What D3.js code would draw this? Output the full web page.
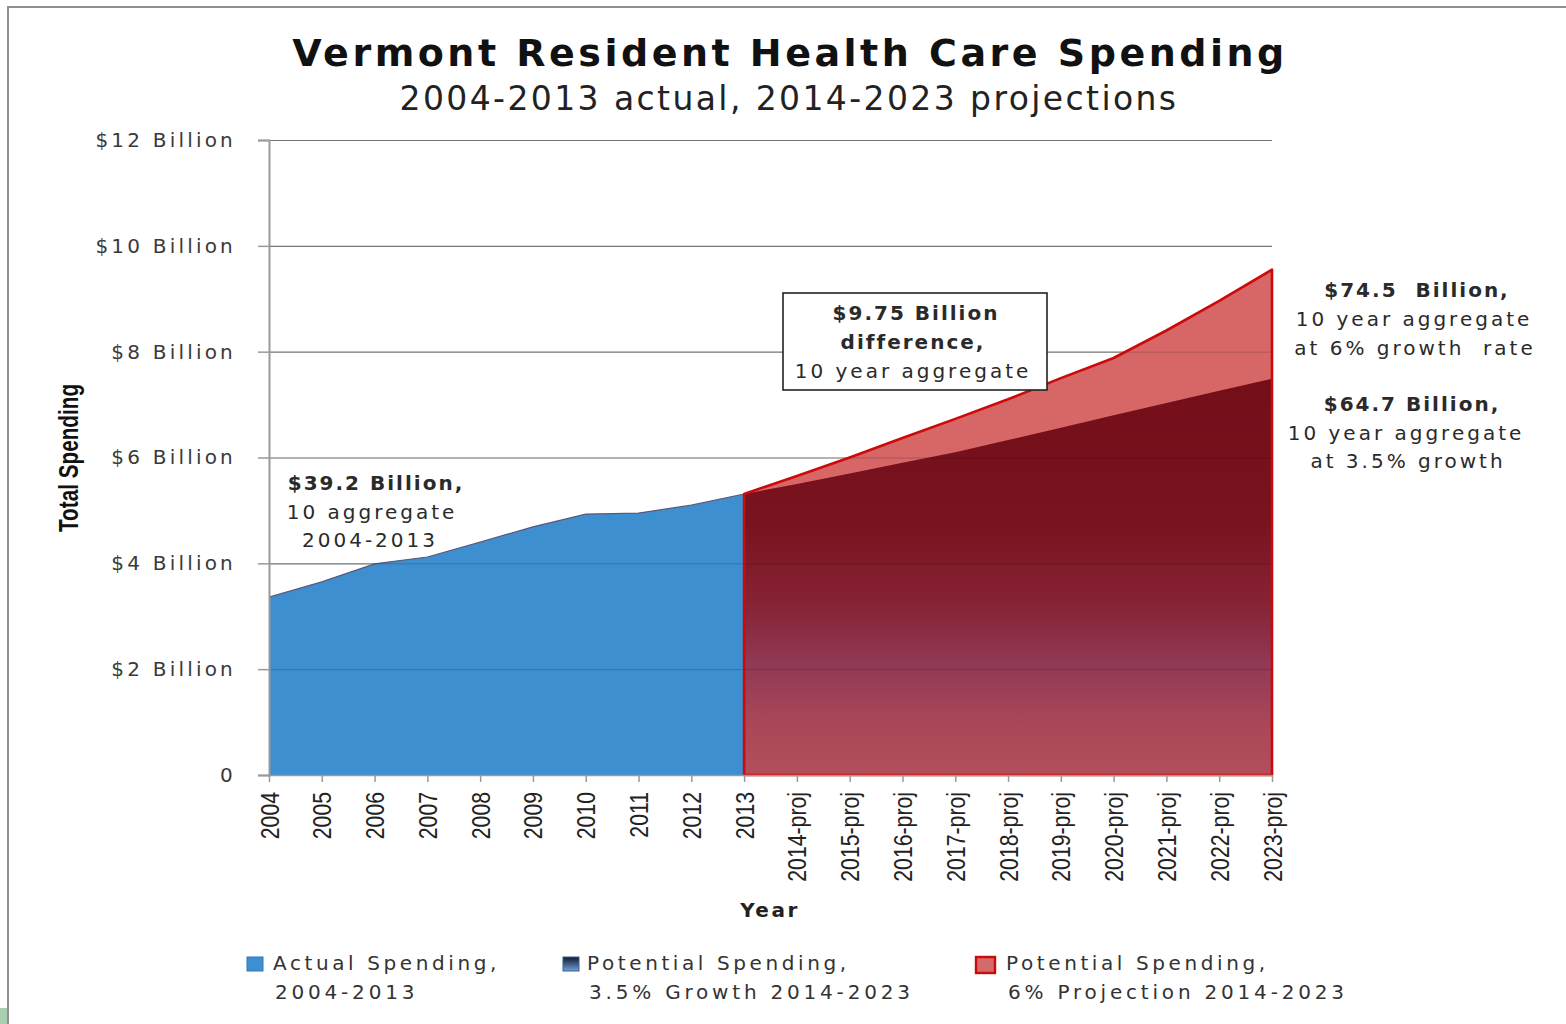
<!DOCTYPE html>
<html>
<head>
<meta charset="utf-8">
<script src="https://cdn.jsdelivr.net/npm/d3@7"></script>
<style>
	body { margin: 0; background: #fff; }
	svg text { font-family: "DejaVu Sans", Verdana, sans-serif; }
</style>
</head>
<body>
<svg width="1566" height="1024"></svg>
<script>
// categories along the bottom
const years = ["2004", "2005", "2006", "2007", "2008", "2009", "2010", "2011", "2012", "2013",
	"2014-proj", "2015-proj", "2016-proj", "2017-proj", "2018-proj", "2019-proj",
	"2020-proj", "2021-proj", "2022-proj", "2023-proj"];

// $ billions
const actualYears = years.slice(0, 10);
const actualSpending = [3.36, 3.65, 3.99, 4.12, 4.40, 4.69, 4.93, 4.95, 5.10, 5.31];

const projYears = years.slice(9); // 2013 .. 2023-proj
const growth35 = [5.31, 5.50, 5.70, 5.90, 6.10, 6.33, 6.56, 6.80, 7.03, 7.26, 7.49];
const growth6 = [5.31, 5.65, 6.00, 6.37, 6.73, 7.10, 7.50, 7.88, 8.40, 8.96, 9.55];

const yTicks = [0, 2, 4, 6, 8, 10, 12];
const yTickLabels = ["0", "$2 Billion", "$4 Billion", "$6 Billion", "$8 Billion", "$10 Billion", "$12 Billion"];

const legendItems = [
	["Actual Spending,", "2004-2013"],
	["Potential Spending,", "3.5% Growth 2014-2023"],
	["Potential Spending,", "6% Projection 2014-2023"]
];

const svg = d3.select("svg");
const defs = svg.append("defs");

const plot = {left: 269, right: 1272, top: 140, bottom: 775};

const x = d3.scalePoint().domain(years).range([plot.left, plot.right]);
const y = d3.scaleLinear().domain([0, 12]).range([plot.bottom, plot.top]);

// frame of the slide
svg.append("rect").attr("x", 0).attr("y", 1008).attr("width", 8).attr("height", 16).attr("fill", "#a9cfb1");
svg.append("path")
	.attr("d", "M8,1024 V7 H1566")
	.attr("fill", "none")
	.attr("stroke", "#8f8f8f")
	.attr("stroke-width", 2);

// gradient for the 3.5% area
const darkGrad = defs.append("linearGradient")
	.attr("id", "darkGrad")
	.attr("gradientUnits", "userSpaceOnUse")
	.attr("x1", 0).attr("x2", 0)
	.attr("y1", 380).attr("y2", plot.bottom);
[[0, "#740e19"], [0.36, "#78131f"], [0.56, "#862234"], [0.72, "#913955"], [0.87, "#a94758"], [1, "#b34f5d"]]
	.forEach(s => darkGrad.append("stop").attr("offset", s[0]).attr("stop-color", s[1]));

const legendGrad = defs.append("linearGradient")
	.attr("id", "legendGrad")
	.attr("x1", 0).attr("x2", 0).attr("y1", 0).attr("y2", 1);
legendGrad.append("stop").attr("offset", 0).attr("stop-color", "#0e1a30");
legendGrad.append("stop").attr("offset", 1).attr("stop-color", "#6f9fd8");

// light gridlines under the areas
svg.append("g")
	.attr("transform", `translate(${plot.left},0)`)
	.call(d3.axisLeft(y).tickValues(yTicks).tickSize(-(plot.right - plot.left)).tickFormat(""))
	.call(g => g.select(".domain").remove())
	.call(g => g.selectAll("line").attr("stroke", "#8c8c8c").attr("stroke-width", 1.2));

// areas
const area = d3.area()
	.x(d => x(d.year))
	.y0(y(0))
	.y1(d => y(d.value));

const actualData = actualYears.map((yr, i) => ({year: yr, value: actualSpending[i]}));
const data6 = projYears.map((yr, i) => ({year: yr, value: growth6[i]}));
const data35 = projYears.map((yr, i) => ({year: yr, value: growth35[i]}));

svg.append("path")
	.datum(actualData)
	.attr("d", area)
	.attr("fill", "#3d8fcf");

svg.append("path")
	.datum(actualData)
	.attr("d", d3.line().x(d => x(d.year)).y(d => y(d.value)))
	.attr("fill", "none")
	.attr("stroke", "#5d587e")
	.attr("stroke-width", 1.2);

svg.append("path")
	.datum(data6)
	.attr("d", area)
	.attr("fill", "#d76666");

svg.append("path")
	.datum(data35)
	.attr("d", area)
	.attr("fill", "url(#darkGrad)");

// gridlines seen through the fills
svg.append("g")
	.attr("transform", `translate(${plot.left},0)`)
	.call(d3.axisLeft(y).tickValues(yTicks.slice(1)).tickSize(-(plot.right - plot.left)).tickFormat(""))
	.call(g => g.select(".domain").remove())
	.call(g => g.selectAll("line").attr("stroke", "#000").attr("stroke-opacity", 0.18));

// red outline of the 6% projection
svg.append("path")
	.datum(data6)
	.attr("d", area)
	.attr("fill", "none")
	.attr("stroke", "#cc0a0a")
	.attr("stroke-width", 2.6)
	.attr("stroke-linejoin", "round");

// y axis
const yAxis = svg.append("g")
	.attr("transform", `translate(${plot.left},0)`)
	.call(d3.axisLeft(y).tickValues(yTicks).tickSize(11).tickPadding(22)
		.tickFormat((d, i) => yTickLabels[i]));
yAxis.select(".domain").attr("stroke", "#9a9a9a").attr("stroke-width", 2);
yAxis.selectAll("line").attr("stroke", "#9a9a9a").attr("stroke-width", 1.5);
yAxis.selectAll("text")
	.attr("fill", "#3a3a3a")
	.style("font-size", "20px")
	.style("letter-spacing", "3.2px");

// x axis, narrow rotated labels
const narrow = 0.85;
const xAxis = svg.append("g")
	.attr("transform", `translate(0,${plot.bottom})`)
	.call(d3.axisBottom(x).tickSize(7).tickSizeOuter(0));
xAxis.select(".domain").attr("stroke", "#9a9a9a").attr("stroke-width", 1.5);
xAxis.selectAll("line").attr("stroke", "#9a9a9a").attr("stroke-width", 1.5);
xAxis.selectAll("text")
	.attr("transform", `rotate(-90) scale(${narrow},1)`)
	.attr("text-anchor", "end")
	.attr("x", -17 / narrow)
	.attr("y", 0)
	.attr("dy", "0.36em")
	.attr("fill", "#222")
	.style("font-family", "'Liberation Sans', Arial, sans-serif")
	.style("font-size", "25px");

// titles
svg.append("text")
	.attr("x", 790).attr("y", 66)
	.attr("text-anchor", "middle")
	.attr("fill", "#111")
	.style("font-size", "38px")
	.style("font-weight", "bold")
	.style("letter-spacing", "3.5px")
	.text("Vermont Resident Health Care Spending");

svg.append("text")
	.attr("x", 789).attr("y", 110)
	.attr("text-anchor", "middle")
	.attr("fill", "#222")
	.style("font-size", "33px")
	.style("letter-spacing", "2.4px")
	.text("2004-2013 actual, 2014-2023 projections");

svg.append("text")
	.attr("transform", "translate(78,458) rotate(-90) scale(0.74,1)")
	.attr("text-anchor", "middle")
	.attr("fill", "#111")
	.style("font-family", "'Liberation Sans', Arial, sans-serif")
	.style("font-size", "28px")
	.style("font-weight", "bold")
	.text("Total Spending");

svg.append("text")
	.attr("x", 770).attr("y", 917)
	.attr("text-anchor", "middle")
	.attr("fill", "#222")
	.style("font-size", "20px")
	.style("font-weight", "bold")
	.style("letter-spacing", "2.5px")
	.text("Year");

// annotations: [text, cx, baseline, bold]
function note(lines) {
	lines.forEach(l => {
		svg.append("text")
			.attr("x", l[1]).attr("y", l[2])
			.attr("text-anchor", "middle")
			.attr("fill", "#2a2a2a")
			.style("white-space", "pre")
			.style("font-size", "20px")
			.style("font-weight", l[3] ? "bold" : "normal")
			.style("letter-spacing", l[3] ? "2px" : "3px")
			.text(l[0]);
	});
}

note([
	["$39.2 Billion,", 376, 490, true],
	["10 aggregate", 372, 519, false],
	["2004-2013", 370, 547, false]
]);

svg.append("rect")
	.attr("x", 783).attr("y", 293)
	.attr("width", 264).attr("height", 97)
	.attr("fill", "#fff")
	.attr("stroke", "#222")
	.attr("stroke-width", 1.6);

note([
	["$9.75 Billion", 916, 320, true],
	["difference,", 913, 349, true],
	["10 year aggregate", 913, 378, false]
]);

note([
	["$74.5  Billion,", 1417, 297, true],
	["10 year aggregate", 1414, 326, false],
	["at 6% growth  rate", 1415, 355, false],
	["$64.7 Billion,", 1412, 411, true],
	["10 year aggregate", 1406, 440, false],
	["at 3.5% growth", 1408, 468, false]
]);

// legend
const legendPos = [[247, 273], [563, 587], [976, 1006]];
const legendFill = ["#3d8fcf", "url(#legendGrad)", "#d46a6a"];
const legendStroke = ["#2f78bb", "#3d5f8f", "#cc0a0a"];

legendItems.forEach((item, i) => {
	const g = svg.append("g");
	g.append("rect")
		.attr("x", legendPos[i][0]).attr("y", 957)
		.attr("width", i == 2 ? 19 : 16).attr("height", i == 2 ? 16 : 14)
		.attr("fill", legendFill[i])
		.attr("stroke", legendStroke[i])
		.attr("stroke-width", i == 2 ? 2.4 : 1);
	g.append("text")
		.attr("x", legendPos[i][1]).attr("y", 970)
		.attr("fill", "#333")
		.style("font-size", "20px")
		.style("letter-spacing", "3.6px")
		.text(item[0]);
	g.append("text")
		.attr("x", legendPos[i][1] + 2).attr("y", 999)
		.attr("fill", "#333")
		.style("font-size", "20px")
		.style("letter-spacing", "3.8px")
		.text(item[1]);
});
</script>
</body>
</html>
